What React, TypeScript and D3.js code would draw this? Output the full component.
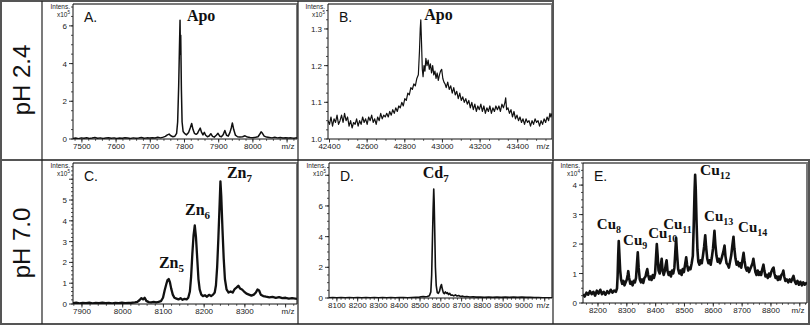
import React from "react";
import * as d3 from "d3";

type Pt = [number, number];

// A. pH 2.4, apo protein, low m/z window (intensity x10^5)
const specA: Pt[] = [
  [7474, 0.03], [7482, 0.05], [7490, 0.02], [7498, 0.06], [7506, 0.04], [7514, 0.07], [7522, 0.03],
  [7530, 0.05], [7538, 0.08], [7546, 0.04], [7554, 0.06], [7562, 0.03], [7570, 0.05], [7578, 0.07],
  [7586, 0.04], [7594, 0.06], [7602, 0.03], [7610, 0.05], [7618, 0.04], [7626, 0.07], [7634, 0.05],
  [7642, 0.03], [7650, 0.06], [7658, 0.04], [7666, 0.05], [7674, 0.08], [7682, 0.04], [7690, 0.06],
  [7698, 0.05], [7706, 0.07], [7714, 0.05], [7722, 0.09], [7730, 0.06], [7738, 0.1], [7744, 0.14],
  [7750, 0.22], [7755, 0.26], [7760, 0.17], [7766, 0.12], [7772, 0.15], [7777, 0.3], [7780, 0.9],
  [7783, 2.8], [7785, 4.6], [7787, 6.3], [7788, 4.5], [7789, 5.5], [7791, 2.6], [7793, 0.9],
  [7796, 0.4], [7800, 0.3], [7806, 0.22], [7812, 0.35], [7817, 0.6], [7821, 0.82], [7825, 0.5],
  [7829, 0.3], [7834, 0.25], [7838, 0.3], [7842, 0.45], [7846, 0.58], [7850, 0.35], [7854, 0.22],
  [7858, 0.35], [7862, 0.2], [7867, 0.12], [7872, 0.16], [7877, 0.28], [7882, 0.14], [7887, 0.1],
  [7893, 0.2], [7898, 0.3], [7903, 0.15], [7908, 0.12], [7913, 0.22], [7918, 0.45], [7923, 0.2],
  [7928, 0.15], [7933, 0.35], [7937, 0.6], [7940, 0.85], [7944, 0.5], [7949, 0.2], [7955, 0.12],
  [7962, 0.1], [7970, 0.12], [7977, 0.17], [7984, 0.1], [7992, 0.08], [8000, 0.07], [8008, 0.09],
  [8015, 0.12], [8020, 0.25], [8024, 0.38], [8028, 0.3], [8033, 0.15], [8040, 0.1], [8048, 0.08],
  [8056, 0.06], [8064, 0.09], [8072, 0.06], [8080, 0.08], [8088, 0.05], [8096, 0.07], [8104, 0.05],
  [8112, 0.06], [8120, 0.04], [8129, 0.06],
];

// B. pH 2.4, apo protein, high m/z window
const specB: Pt[] = [
  [42392, 1.05], [42400, 1.04], [42408, 1.06], [42416, 1.035], [42424, 1.055], [42432, 1.045],
  [42440, 1.065], [42448, 1.04], [42456, 1.05], [42464, 1.065], [42472, 1.045], [42480, 1.07],
  [42488, 1.05], [42496, 1.06], [42504, 1.035], [42512, 1.05], [42520, 1.03], [42528, 1.045],
  [42536, 1.04], [42544, 1.055], [42552, 1.035], [42560, 1.05], [42568, 1.04], [42576, 1.06],
  [42584, 1.045], [42592, 1.055], [42600, 1.04], [42608, 1.06], [42616, 1.05], [42624, 1.065],
  [42632, 1.045], [42640, 1.055], [42648, 1.04], [42656, 1.06], [42664, 1.05], [42672, 1.07],
  [42680, 1.055], [42688, 1.065], [42696, 1.06], [42704, 1.07], [42712, 1.06], [42720, 1.075],
  [42728, 1.065], [42736, 1.08], [42744, 1.07], [42752, 1.085], [42760, 1.075], [42768, 1.09],
  [42776, 1.085], [42784, 1.1], [42792, 1.09], [42800, 1.11], [42808, 1.105], [42816, 1.125],
  [42824, 1.12], [42832, 1.14], [42840, 1.135], [42848, 1.15], [42856, 1.145], [42864, 1.165],
  [42872, 1.175], [42878, 1.24], [42882, 1.3], [42885, 1.325], [42889, 1.26], [42893, 1.19],
  [42897, 1.17], [42902, 1.2], [42907, 1.185], [42912, 1.22], [42918, 1.2], [42924, 1.215],
  [42930, 1.19], [42936, 1.205], [42942, 1.18], [42948, 1.2], [42954, 1.175], [42960, 1.185],
  [42966, 1.165], [42972, 1.18], [42978, 1.16], [42984, 1.175], [42990, 1.185], [42996, 1.19],
  [43002, 1.165], [43008, 1.155], [43014, 1.15], [43020, 1.14], [43028, 1.155], [43036, 1.135],
  [43044, 1.145], [43052, 1.125], [43060, 1.14], [43068, 1.12], [43076, 1.13], [43084, 1.11],
  [43092, 1.125], [43100, 1.105], [43108, 1.115], [43116, 1.1], [43124, 1.11], [43132, 1.095],
  [43140, 1.105], [43148, 1.085], [43156, 1.1], [43164, 1.08], [43172, 1.095], [43180, 1.075],
  [43188, 1.09], [43196, 1.08], [43204, 1.095], [43212, 1.075], [43220, 1.09], [43228, 1.07],
  [43236, 1.085], [43244, 1.075], [43252, 1.09], [43260, 1.07], [43268, 1.085], [43276, 1.075],
  [43284, 1.09], [43292, 1.08], [43300, 1.09], [43308, 1.075], [43316, 1.095], [43324, 1.085],
  [43332, 1.1], [43336, 1.112], [43341, 1.08], [43348, 1.085], [43356, 1.07], [43364, 1.08],
  [43372, 1.06], [43380, 1.075], [43388, 1.055], [43396, 1.065], [43404, 1.05], [43412, 1.06],
  [43420, 1.045], [43428, 1.055], [43436, 1.04], [43444, 1.055], [43452, 1.045], [43460, 1.05],
  [43468, 1.035], [43476, 1.05], [43484, 1.04], [43492, 1.055], [43500, 1.045], [43508, 1.05],
  [43516, 1.035], [43524, 1.05], [43532, 1.04], [43540, 1.055], [43548, 1.045], [43556, 1.06],
  [43564, 1.05], [43571, 1.07], [43576, 1.06], [43582, 1.07],
];

// C. pH 7.0, Zn-loaded
const specC: Pt[] = [
  [7878, 0.04], [7886, 0.06], [7894, 0.03], [7902, 0.05], [7910, 0.04], [7918, 0.06], [7926, 0.03],
  [7934, 0.05], [7942, 0.04], [7950, 0.06], [7958, 0.04], [7966, 0.05], [7974, 0.03], [7982, 0.05],
  [7990, 0.04], [7998, 0.06], [8006, 0.04], [8014, 0.05], [8022, 0.06], [8030, 0.08], [8036, 0.1],
  [8041, 0.18], [8046, 0.28], [8050, 0.22], [8054, 0.3], [8058, 0.15], [8064, 0.09], [8070, 0.08],
  [8076, 0.1], [8082, 0.08], [8088, 0.1], [8094, 0.14], [8099, 0.3], [8103, 0.65], [8107, 0.95],
  [8110, 1.15], [8113, 1.2], [8116, 1.05], [8119, 0.75], [8123, 0.45], [8127, 0.3], [8132, 0.26],
  [8137, 0.22], [8142, 0.28], [8147, 0.2], [8152, 0.25], [8157, 0.22], [8161, 0.3], [8165, 0.6],
  [8168, 1.3], [8171, 2.4], [8174, 3.3], [8177, 3.78], [8180, 3.2], [8183, 2.2], [8186, 1.2],
  [8189, 0.7], [8193, 0.45], [8197, 0.38], [8202, 0.42], [8207, 0.35], [8212, 0.44], [8217, 0.38],
  [8222, 0.45], [8226, 0.55], [8229, 0.9], [8232, 1.8], [8235, 3.2], [8238, 4.8], [8240, 5.9],
  [8242, 5.2], [8245, 3.6], [8248, 2.2], [8251, 1.2], [8255, 0.7], [8260, 0.55], [8265, 0.6],
  [8270, 0.55], [8275, 0.72], [8280, 0.8], [8284, 0.88], [8288, 0.75], [8293, 0.7], [8298, 0.6],
  [8304, 0.5], [8310, 0.45], [8316, 0.4], [8322, 0.45], [8327, 0.55], [8331, 0.7], [8335, 0.65],
  [8339, 0.45], [8345, 0.38], [8352, 0.35], [8360, 0.32], [8368, 0.34], [8376, 0.3], [8384, 0.33],
  [8392, 0.28], [8400, 0.3], [8408, 0.26], [8416, 0.28], [8428, 0.25],
];

// D. pH 7.0, Cd-loaded
const specD: Pt[] = [
  [8062, 0.02], [8080, 0.03], [8100, 0.02], [8120, 0.03], [8140, 0.02], [8160, 0.03], [8180, 0.02],
  [8200, 0.03], [8220, 0.02], [8240, 0.03], [8260, 0.02], [8280, 0.03], [8300, 0.02], [8320, 0.03],
  [8340, 0.02], [8360, 0.03], [8380, 0.02], [8400, 0.03], [8420, 0.03], [8440, 0.02], [8460, 0.03],
  [8480, 0.04], [8495, 0.05], [8505, 0.08], [8515, 0.1], [8525, 0.08], [8535, 0.1], [8545, 0.15],
  [8552, 0.4], [8556, 1.5], [8560, 4.0], [8563, 5.8], [8566, 7.1], [8568, 6.3], [8571, 4.2],
  [8574, 2.0], [8578, 0.8], [8583, 0.35], [8588, 0.3], [8594, 0.45], [8599, 0.75], [8603, 0.88],
  [8607, 0.6], [8612, 0.35], [8617, 0.28], [8622, 0.4], [8627, 0.3], [8632, 0.35], [8637, 0.22],
  [8643, 0.3], [8649, 0.18], [8655, 0.2], [8662, 0.14], [8670, 0.2], [8678, 0.13], [8686, 0.16],
  [8695, 0.1], [8705, 0.12], [8715, 0.08], [8725, 0.1], [8740, 0.07], [8755, 0.08], [8770, 0.06],
  [8790, 0.07], [8810, 0.05], [8830, 0.06], [8850, 0.05], [8870, 0.06], [8890, 0.05], [8910, 0.06],
  [8930, 0.05], [8950, 0.06], [8970, 0.05], [8990, 0.06], [9010, 0.05], [9030, 0.04], [9050, 0.03],
  [9070, 0.03], [9090, 0.02], [9110, 0.02], [9135, 0.02],
];

// E. pH 7.0, Cu-loaded (x10^4)
const specE: Pt[] = [
  [8148, 0.3], [8154, 0.22], [8160, 0.35], [8166, 0.28], [8172, 0.4], [8178, 0.3], [8184, 0.38],
  [8190, 0.25], [8196, 0.42], [8202, 0.32], [8208, 0.45], [8214, 0.3], [8220, 0.38], [8226, 0.28],
  [8232, 0.4], [8238, 0.33], [8244, 0.45], [8250, 0.35], [8256, 0.42], [8262, 0.38], [8266, 0.5],
  [8268, 0.9], [8270, 1.6], [8272, 2.1], [8274, 1.7], [8277, 1.1], [8280, 0.8], [8284, 0.65],
  [8288, 0.75], [8292, 0.6], [8296, 0.7], [8300, 0.8], [8303, 0.95], [8305, 1.08], [8308, 0.85],
  [8312, 0.65], [8316, 0.72], [8320, 0.6], [8324, 0.75], [8328, 0.7], [8332, 0.85], [8335, 1.3],
  [8338, 1.72], [8341, 1.2], [8345, 0.8], [8349, 0.7], [8353, 0.8], [8357, 0.68], [8361, 0.85],
  [8365, 0.9], [8368, 1.05], [8371, 1.15], [8374, 0.95], [8378, 0.8], [8382, 0.9], [8386, 0.78],
  [8390, 0.95], [8394, 0.85], [8398, 1.0], [8401, 1.5], [8404, 2.0], [8407, 1.6], [8410, 1.1],
  [8414, 1.0], [8418, 1.3], [8421, 1.5], [8424, 1.1], [8428, 0.95], [8432, 1.1], [8435, 1.3],
  [8438, 1.45], [8441, 1.1], [8445, 0.95], [8449, 1.05], [8453, 0.9], [8457, 1.1], [8461, 1.0],
  [8465, 1.2], [8468, 1.7], [8471, 2.2], [8474, 1.7], [8478, 1.15], [8482, 1.0], [8486, 1.1],
  [8490, 0.95], [8494, 1.15], [8498, 1.05], [8502, 1.3], [8506, 1.55], [8509, 1.3], [8513, 1.1],
  [8517, 1.2], [8521, 1.15], [8525, 1.35], [8529, 1.6], [8532, 2.6], [8535, 3.8], [8537, 4.35],
  [8539, 3.9], [8542, 2.7], [8545, 1.8], [8548, 1.4], [8552, 1.3], [8556, 1.45], [8560, 1.35],
  [8564, 1.6], [8568, 1.9], [8572, 2.3], [8575, 1.9], [8579, 1.5], [8583, 1.35], [8587, 1.45],
  [8591, 1.3], [8595, 1.55], [8599, 1.85], [8602, 2.2], [8604, 2.45], [8607, 2.0], [8611, 1.6],
  [8615, 1.4], [8619, 1.5], [8623, 1.35], [8627, 1.45], [8631, 1.6], [8635, 1.75], [8639, 1.95],
  [8642, 1.6], [8646, 1.35], [8650, 1.3], [8654, 1.2], [8658, 1.4], [8662, 1.6], [8666, 1.95],
  [8670, 2.25], [8673, 1.85], [8677, 1.5], [8681, 1.3], [8685, 1.4], [8689, 1.25], [8693, 1.35],
  [8697, 1.2], [8701, 1.45], [8705, 1.7], [8708, 1.45], [8712, 1.2], [8716, 1.1], [8720, 1.2],
  [8724, 1.05], [8728, 1.15], [8732, 1.25], [8736, 1.35], [8739, 1.5], [8742, 1.3], [8746, 1.05],
  [8750, 0.95], [8754, 1.1], [8758, 0.95], [8762, 1.05], [8766, 0.95], [8770, 1.15], [8774, 1.3],
  [8777, 1.1], [8781, 0.9], [8785, 0.95], [8789, 0.85], [8793, 1.0], [8797, 0.9], [8801, 1.05],
  [8805, 1.15], [8809, 1.2], [8812, 1.0], [8816, 0.85], [8820, 0.9], [8824, 0.78], [8828, 0.9],
  [8832, 0.8], [8836, 0.95], [8840, 1.0], [8843, 1.1], [8846, 0.9], [8850, 0.75], [8855, 0.8],
  [8860, 0.7], [8865, 0.8], [8870, 0.72], [8875, 0.85], [8878, 0.92], [8882, 0.75], [8887, 0.65],
  [8892, 0.75], [8897, 0.62], [8902, 0.72], [8907, 0.6], [8912, 0.7], [8917, 0.62], [8925, 0.7],
];

// tick labels
const xLabA = [7500, 7600, 7700, 7800, 7900, 8000];
const yLabA = [0, 2, 4, 6];
const xLabB = [42400, 42600, 42800, 43000, 43200, 43400];
const yLabB = [1.0, 1.1, 1.2, 1.3];
const xLabC = [7900, 8000, 8100, 8200, 8300];
const yLabC = [0, 1, 2, 3, 4, 5];
const xLabD = [8100, 8200, 8300, 8400, 8500, 8600, 8700, 8800, 8900, 9000];
const yLabD = [0, 2, 4, 6];
const xLabE = [8200, 8300, 8400, 8500, 8600, 8700, 8800];
const yLabE = [0, 1, 2, 3, 4];

type Note = { mz: number; y: number; text: string; sub?: string; size?: number; subSize?: number };

// peak annotations, placed in data units
const notesA: Note[] = [{ mz: 7807, y: 6.26, text: "Apo" }];
const notesB: Note[] = [{ mz: 42903, y: 1.324, text: "Apo" }];
const notesC: Note[] = [
  { mz: 8089, y: 1.73, text: "Zn", sub: "5" },
  { mz: 8153, y: 4.28, text: "Zn", sub: "6" },
  { mz: 8256, y: 6.06, text: "Zn", sub: "7" },
];
const notesD: Note[] = [{ mz: 8513, y: 7.82, text: "Cd", sub: "7" }];
const notesE: Note[] = [
  { mz: 8196, y: 2.51, text: "Cu", sub: "8", size: 15, subSize: 10 },
  { mz: 8287, y: 1.97, text: "Cu", sub: "9", size: 15, subSize: 10 },
  { mz: 8374, y: 2.2, text: "Cu", sub: "10", size: 15, subSize: 10 },
  { mz: 8426, y: 2.51, text: "Cu", sub: "11", size: 15, subSize: 10 },
  { mz: 8554, y: 4.34, text: "Cu", sub: "12", size: 15.5, subSize: 10.5 },
  { mz: 8568, y: 2.78, text: "Cu", sub: "13", size: 15, subSize: 10 },
  { mz: 8686, y: 2.41, text: "Cu", sub: "14", size: 15, subSize: 10 },
];

const SANS = "'Liberation Sans', Arial, sans-serif";
const SERIF = "'Liberation Serif', 'Times New Roman', serif";

function steps(lo: number, hi: number, step: number) {
  const out: number[] = [];
  const start = Math.ceil(lo / step - 1e-9);
  for (let i = start; i * step <= hi + 1e-9; i++) out.push(+(i * step).toFixed(6));
  return out;
}

type PanelProps = {
  id: string;
  box: [number, number, number, number];
  xDomain: [number, number];
  yDomain: [number, number];
  data: Pt[];
  xLabels: number[];
  yLabels: number[];
  xMajor: number;
  xMinor: number;
  yMajor: number;
  yMinor: number;
  yFmt?: (v: number) => string;
  letter: string;
  exp: string;
  notes: Note[];
  lw: number;
};

const Spectrum = (p: PanelProps) => {
  const [left, top, right, bottom] = p.box;
  const x = d3.scaleLinear().domain(p.xDomain).range([left, right]);
  const y = d3.scaleLinear().domain(p.yDomain).range([bottom, top]);
  const line = d3.line<Pt>().x((d) => x(d[0])).y((d) => y(d[1]));
  const fmt = p.yFmt || ((v: number) => String(v));

  const xMaj = steps(p.xDomain[0], p.xDomain[1], p.xMajor);
  const xMin = steps(p.xDomain[0], p.xDomain[1], p.xMinor);
  const yMaj = steps(p.yDomain[0], p.yDomain[1], p.yMajor);
  const yMin = steps(p.yDomain[0], p.yDomain[1], p.yMinor);
  const labY = bottom + 9.5;

  return (
    <g>
      <defs>
        <clipPath id={`clip-${p.id}`}>
          <rect x={left} y={top} width={right - left} height={bottom - top} />
        </clipPath>
      </defs>
      {/* plot frame: grey top/right, black axes */}
      <path d={`M${left},${top} H${right} V${bottom}`} fill="none" stroke="#7a7a7a" strokeWidth={2} />
      <path
        d={line(p.data) || ""}
        fill="none"
        stroke="#111"
        strokeWidth={p.lw}
        strokeLinejoin="round"
        clipPath={`url(#clip-${p.id})`}
      />
      <line x1={left} x2={left} y1={top} y2={bottom} stroke="#111" strokeWidth={1} />
      <line x1={left} x2={right} y1={bottom} y2={bottom} stroke="#111" strokeWidth={1} />

      {yMin.map((v) => (
        <line key={`ym${v}`} x1={left - 2} x2={left} y1={y(v)} y2={y(v)} stroke="#222" strokeWidth={0.8} />
      ))}
      {yMaj.map((v) => (
        <line key={`yM${v}`} x1={left - 4} x2={left} y1={y(v)} y2={y(v)} stroke="#222" strokeWidth={0.9} />
      ))}
      {p.yLabels.map((v) => (
        <text key={`yl${v}`} x={left - 6} y={y(v) + 3} textAnchor="end" fontSize={8} fontFamily={SANS} fill="#222">
          {fmt(v)}
        </text>
      ))}

      {xMin.map((v) => (
        <line key={`xm${v}`} x1={x(v)} x2={x(v)} y1={bottom} y2={bottom + 1.8} stroke="#222" strokeWidth={0.8} />
      ))}
      {xMaj.map((v) => (
        <line key={`xM${v}`} x1={x(v)} x2={x(v)} y1={bottom} y2={bottom + 3.5} stroke="#222" strokeWidth={0.9} />
      ))}
      {p.xLabels.map((v) => (
        <text key={`xl${v}`} x={x(v)} y={labY} textAnchor="middle" fontSize={8} fontFamily={SANS} fill="#222">
          {v}
        </text>
      ))}
      <text x={right - 9} y={labY} textAnchor="middle" fontSize={8} fontFamily={SANS} fill="#222">
        m/z
      </text>

      <text x={left - 3} y={top + 4.5} textAnchor="end" fontSize={6.5} fontFamily={SANS} fill="#222">
        Intens.
      </text>
      <text x={left - 3} y={top + 12.5} textAnchor="end" fontSize={6.5} fontFamily={SANS} fill="#222">
        x10<tspan fontSize={4.5} dy={-3}>{p.exp}</tspan>
      </text>

      <text x={left + 11} y={top + 18} fontSize={14} fontFamily={SANS} fill="#111">
        {p.letter}
      </text>

      {p.notes.map((n, i) => (
        <text
          key={i}
          x={x(n.mz)}
          y={y(n.y)}
          fontSize={n.size || 16}
          fontWeight="bold"
          fontFamily={SERIF}
          fill="#111"
        >
          {n.text}
          {n.sub && (
            <tspan fontSize={n.subSize || 11} dy={4}>
              {n.sub}
            </tspan>
          )}
        </text>
      ))}
    </g>
  );
};

export default function App() {
  const W = 810;
  const H = 326;
  return (
    <svg
      width={W}
      height={H}
      viewBox={`0 0 ${W} ${H}`}
      style={{ position: "absolute", left: 0, top: 0, background: "#fff" }}
    >
      <rect width={W} height={H} fill="#fff" />

      <Spectrum
        id="a"
        box={[73, 4, 297, 139]}
        xDomain={[7474, 8129]}
        yDomain={[0, 7.16]}
        data={specA}
        xLabels={xLabA}
        yLabels={yLabA}
        xMajor={100}
        xMinor={20}
        yMajor={2}
        yMinor={0.5}
        letter="A."
        exp="5"
        notes={notesA}
        lw={1.5}
      />
      <Spectrum
        id="b"
        box={[328, 4, 552, 139]}
        xDomain={[42392, 43582]}
        yDomain={[1.0, 1.368]}
        data={specB}
        xLabels={xLabB}
        yLabels={yLabB}
        xMajor={200}
        xMinor={50}
        yMajor={0.1}
        yMinor={0.025}
        yFmt={(v) => v.toFixed(1)}
        letter="B."
        exp="5"
        notes={notesB}
        lw={1.2}
      />
      <Spectrum
        id="c"
        box={[73, 163, 297, 304]}
        xDomain={[7878, 8428]}
        yDomain={[0, 6.78]}
        data={specC}
        xLabels={xLabC}
        yLabels={yLabC}
        xMajor={100}
        xMinor={20}
        yMajor={1}
        yMinor={0.2}
        letter="C."
        exp="5"
        notes={notesC}
        lw={2.3}
      />
      <Spectrum
        id="d"
        box={[329, 163, 552, 298]}
        xDomain={[8062, 9135]}
        yDomain={[0, 8.8]}
        data={specD}
        xLabels={xLabD}
        yLabels={yLabD}
        xMajor={100}
        xMinor={20}
        yMajor={2}
        yMinor={0.5}
        letter="D."
        exp="5"
        notes={notesD}
        lw={1.6}
      />
      <Spectrum
        id="e"
        box={[583, 163, 807, 303]}
        xDomain={[8148, 8925]}
        yDomain={[0, 4.75]}
        data={specE}
        xLabels={xLabE}
        yLabels={yLabE}
        xMajor={100}
        xMinor={20}
        yMajor={1}
        yMinor={0.25}
        letter="E."
        exp="4"
        notes={notesE}
        lw={2.6}
      />

      {/* figure grid */}
      <path d="M1,160 V1 H553 V160" fill="none" stroke="#555" strokeWidth={2} />
      <rect x={1} y={160} width={808} height={164} fill="none" stroke="#555" strokeWidth={2} />
      <line x1={42} x2={42} y1={1} y2={324} stroke="#222" strokeWidth={1.2} />
      <line x1={298} x2={298} y1={1} y2={324} stroke="#222" strokeWidth={1.2} />
      <line x1={553} x2={553} y1={160} y2={324} stroke="#222" strokeWidth={1.2} />

      <text
        transform="translate(30,80) rotate(-90)"
        textAnchor="middle"
        fontSize={24}
        fontFamily={SANS}
        fill="#111"
      >
        pH 2.4
      </text>
      <text
        transform="translate(30,243) rotate(-90)"
        textAnchor="middle"
        fontSize={24}
        fontFamily={SANS}
        fill="#111"
      >
        pH 7.0
      </text>
    </svg>
  );
}
